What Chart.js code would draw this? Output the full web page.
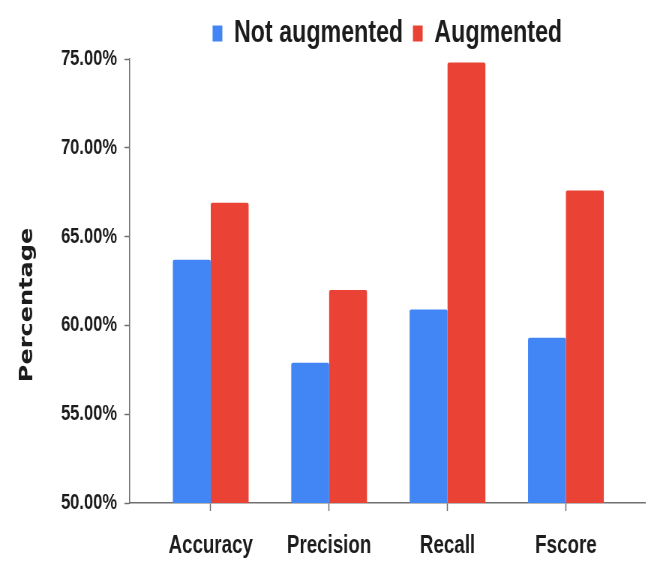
<!DOCTYPE html>
<html>
<head>
<meta charset="utf-8">
<script src="https://cdn.jsdelivr.net/npm/chart.js@4"></script>
<style>
  html, body { margin: 0; padding: 0; background: #ffffff; overflow: hidden; }
  #wrap { width: 664px; height: 561px; overflow: hidden; position: relative; }
  /* the chart is laid out wide and condensed horizontally to a 664px frame */
  #chart { display: block; transform: scaleX(0.75); transform-origin: 0 0; }
</style>
</head>
<body>
<div id="wrap"><canvas id="chart" width="885" height="561" style="width:885px;height:561px"></canvas></div>
<script>
// Evaluation metrics, with and without data augmentation (values in %)
const metrics = ['Accuracy', 'Precision', 'Recall', 'Fscore'];
const notAugmented = [63.7, 57.9, 60.9, 59.3];
const augmented = [66.9, 62.0, 74.8, 67.6];
const seriesNames = ['Not augmented', 'Augmented'];
const yTicks = [50, 55, 60, 65, 70, 75];
const yTitle = 'Percentage';

const FONT = "'Liberation Sans', Arial, Helvetica, sans-serif";
const TEXT = '#1c1c1c';
const AXIS = '#707070';

// Vertical axis title, drawn a little below the middle of the plot area
const yTitlePlugin = {
  id: 'yTitle',
  afterDraw(chart) {
    const { ctx, chartArea } = chart;
    ctx.save();
    ctx.translate(37, (chartArea.top + chartArea.bottom) / 2 + 24);
    ctx.rotate(-Math.PI / 2);
    ctx.font = "bold 24px 'DejaVu Sans', 'Liberation Sans', sans-serif";
    ctx.fillStyle = TEXT;
    ctx.textAlign = 'center';
    ctx.textBaseline = 'middle';
    ctx.fillText(yTitle, 0, 0);
    ctx.restore();
  }
};

new Chart(document.getElementById('chart'), {
  type: 'bar',
  data: {
    labels: metrics,
    datasets: [
      { label: seriesNames[0], data: notAugmented, backgroundColor: '#4285F4' },
      { label: seriesNames[1], data: augmented, backgroundColor: '#EA4335' }
    ]
  },
  plugins: [yTitlePlugin],
  options: {
    responsive: false,
    animation: false,
    devicePixelRatio: 1,
    layout: { padding: { left: 0, right: 25, top: 5, bottom: 0 } },
    datasets: {
      bar: { categoryPercentage: 0.64, barPercentage: 1.0, borderRadius: 2, borderSkipped: 'bottom' }
    },
    plugins: {
      legend: {
        position: 'top',
        fullSize: false,
        labels: {
          boxWidth: 13,
          boxHeight: 16,
          padding: 13,
          color: TEXT,
          font: { family: FONT, size: 31, weight: 'bold' }
        }
      },
      tooltip: { enabled: false }
    },
    scales: {
      x: {
        offset: true,
        // wider margin before the first and after the last category group
        afterBuildTicks: (scale) => { scale._startValue = -0.684; scale._valueRange = 4.352; },
        afterFit: (scale) => { scale.height = 58; },
        border: { display: true, color: AXIS, width: 1.5 },
        grid: { offset: false, drawOnChartArea: false, drawTicks: true, tickLength: 8, color: AXIS, tickWidth: 1.5 },
        ticks: { color: TEXT, padding: 20, font: { family: FONT, size: 25, weight: 'bold' } }
      },
      y: {
        min: 50,
        max: 75,
        afterBuildTicks: (scale) => { scale.ticks = yTicks.map(v => ({ value: v })); },
        afterFit: (scale) => { scale.width = 173; },
        border: { display: true, color: AXIS, width: 1.5 },
        grid: { drawOnChartArea: false, drawTicks: true, tickLength: 7, color: AXIS, tickWidth: 1.5 },
        ticks: {
          color: TEXT,
          padding: 10,
          font: { family: FONT, size: 22, weight: 'bold' },
          callback: (v) => Number(v).toFixed(2) + '%'
        }
      }
    }
  }
});
</script>
</body>
</html>
